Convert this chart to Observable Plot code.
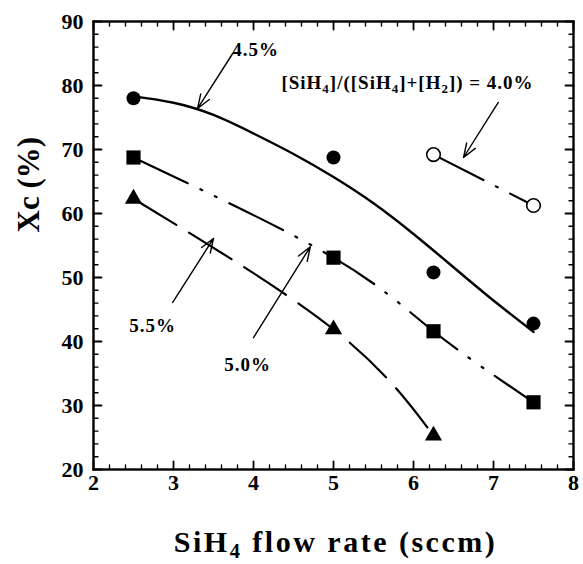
<!DOCTYPE html>
<html>
<head>
<meta charset="utf-8">
<script src="https://cdn.jsdelivr.net/npm/d3@7"></script>
<script src="https://cdn.jsdelivr.net/npm/@observablehq/plot@0.6"></script>
<style>
  html, body { margin: 0; padding: 0; background: #fff; }
  #chart svg { display: block; }
</style>
</head>
<body>
<div id="chart"></div>
<script>
// ---- data ----
const flow = [2.5, 5, 6.25, 7.5];                 // SiH4 flow rate (sccm)
const xc45 = [78.0, 68.75, 50.8, 42.8];           // 4.5% (filled circles)
const xc50 = [68.75, 53.1, 41.6, 30.5];           // 5.0% (filled squares)
const flow55 = [2.5, 5, 6.25];
const xc55 = [62.3, 41.9, 25.3];                  // 5.5% (filled triangles)
const flow40 = [6.25, 7.5];
const xc40 = [69.2, 61.25];                       // 4.0% (open circles)
// solid fit curve through the 4.5% series
const fitFlow45 = [2.5, 3, 3.5, 4, 4.5, 5, 5.5, 6, 6.5, 7, 7.5];
const fitXc45 = [78.3, 77.3, 75.4, 72.5, 69.3, 65.7, 61.6, 56.8, 51.6, 46.4, 41.5];

// tick values
const xMajorTicks = [2, 3, 4, 5, 6, 7, 8];
const yMajorTicks = [20, 30, 40, 50, 60, 70, 80, 90];
const xMinorTicks = d3.range(2, 8.0001, 0.2).map(v => +v.toFixed(1)).filter(v => !xMajorTicks.includes(v));
const yMinorTicks = d3.range(20, 90.0001, 2).filter(v => !yMajorTicks.includes(v));

// annotations
const labelText = ["4.5%", "[SiH4]/([SiH4]+[H2]) = 4.0%", "5.5%", "5.0%"];
const labelX = [4.025, 5.925, 2.74, 3.925];
const labelY = [85.6, 80.4, 42.5, 36.4];
const arrowX1 = [3.74, 7.06, 2.99, 4.0];
const arrowY1 = [85.0, 77.35, 46.1, 40.6];
const arrowX2 = [3.30, 6.625, 3.5, 4.71];
const arrowY2 = [76.4, 68.75, 56.1, 54.8];

const xTitle = "SiH4 flow rate (sccm)";
const yTitle = "Xc (%)";

// ---- layout ----
const W = 583, H = 564, mt = 21, mr = 10, mb = 95, ml = 93;
const fw = W - ml - mr, fh = H - mt - mb;
const xDomain = [2, 8], yDomain = [20, 90];
const font = "'Liberation Serif', 'Times New Roman', serif";
const majorLen = 8, minorLen = 4.5;

// ---- build tables ----
const s45 = flow.map((x, i) => ({x, y: xc45[i]}));
const s50 = flow.map((x, i) => ({x, y: xc50[i]}));
const s55 = flow55.map((x, i) => ({x, y: xc55[i]}));
const s40 = flow40.map((x, i) => ({x, y: xc40[i]}));
const fit45 = fitFlow45.map((x, i) => ({x, y: fitXc45[i]}));
const labels = labelText.map((t, i) => ({t, x: labelX[i], y: labelY[i]}));
const arrows = arrowX1.map((x1, i) => ({x1, y1: arrowY1[i], x2: arrowX2[i], y2: arrowY2[i]}));

// inward tick segments on all four sides (pixel length converted to data units)
const pxY = (yDomain[1] - yDomain[0]) / fh, pxX = (xDomain[1] - xDomain[0]) / fw;
function tickSegments(xs, ys, len) {
  const rows = [];
  xs.forEach((v, i) => {
    rows.push({k: "b" + i, x: v, y: yDomain[0]}, {k: "b" + i, x: v, y: yDomain[0] + len * pxY});
    rows.push({k: "t" + i, x: v, y: yDomain[1]}, {k: "t" + i, x: v, y: yDomain[1] - len * pxY});
  });
  ys.forEach((v, i) => {
    rows.push({k: "l" + i, x: xDomain[0], y: v}, {k: "l" + i, x: xDomain[0] + len * pxX, y: v});
    rows.push({k: "r" + i, x: xDomain[1], y: v}, {k: "r" + i, x: xDomain[1] - len * pxX, y: v});
  });
  return rows;
}
const majorSegs = tickSegments(xMajorTicks, yMajorTicks, majorLen);
const minorSegs = tickSegments(xMinorTicks, yMinorTicks, minorLen);

const chart = Plot.plot({
  width: W, height: H,
  marginTop: mt, marginRight: mr, marginBottom: mb, marginLeft: ml,
  style: {fontFamily: font, background: "white", color: "black"},
  x: {domain: xDomain, axis: null},
  y: {domain: yDomain, axis: null},
  marks: [
    // ticks and frame
    Plot.line(majorSegs, {x: "x", y: "y", z: "k", stroke: "black", strokeWidth: 1.8}),
    Plot.line(minorSegs, {x: "x", y: "y", z: "k", stroke: "black", strokeWidth: 1.4}),
    Plot.frame({stroke: "black", strokeWidth: 2.4}),
    // tick labels
    Plot.text(xMajorTicks, {x: d => d, text: d => String(d), frameAnchor: "bottom", dy: 13, lineAnchor: "middle", textAnchor: "middle", fontSize: 22, fontWeight: "bold"}),
    Plot.text(yMajorTicks, {y: d => d, text: d => String(d), frameAnchor: "left", dx: -10, lineAnchor: "middle", textAnchor: "end", fontSize: 22, fontWeight: "bold"}),
    // axis titles
    Plot.text([xTitle], {text: d => d, frameAnchor: "bottom", dy: 73, fontSize: 30, fontWeight: "bold", lineAnchor: "middle", dx: 2}),
    Plot.text([yTitle], {text: d => d, frameAnchor: "left", dx: -64, dy: -13, rotate: -90, fontSize: 31, fontWeight: "bold", lineAnchor: "middle"}),
    // series lines
    Plot.line(fit45, {x: "x", y: "y", curve: "natural", strokeWidth: 2.4}),
    Plot.line(s50, {x: "x", y: "y", curve: "natural", strokeWidth: 2.2, strokeDasharray: "60,14,2,14,2,14"}),
    Plot.line(s55, {x: "x", y: "y", curve: "natural", strokeWidth: 2.2, strokeDasharray: "50,15"}),
    Plot.line(s40, {x: "x", y: "y", strokeWidth: 2.2, strokeDasharray: "56,14,2,14"}),
    // markers
    Plot.dot(s45, {x: "x", y: "y", symbol: "circle", r: 7, fill: "black"}),
    Plot.dot(s50, {x: "x", y: "y", symbol: "square", r: 8, fill: "black"}),
    Plot.dot(s55, {x: "x", y: "y", symbol: "triangle", r: 6.4, fill: "black"}),
    Plot.dot(s40, {x: "x", y: "y", symbol: "circle", r: 6.8, fill: "white", stroke: "black", strokeWidth: 1.6}),
    // annotations
    Plot.arrow(arrows, {x1: "x1", y1: "y1", x2: "x2", y2: "y2", stroke: "black", strokeWidth: 1.4, headLength: 16, headAngle: 40}),
    Plot.text(labels, {x: "x", y: "y", text: "t", fontSize: 19, fontWeight: "bold", lineAnchor: "middle", textAnchor: "middle"})
  ]
});

// subscripts for chemical formulae (SiH4, H2) and slightly wider lettering
const ns = "http://www.w3.org/2000/svg";
chart.querySelectorAll("text, tspan").forEach(el => {
  if (el.childNodes.length !== 1 || el.firstChild.nodeType !== 3) return;
  const s = el.textContent;
  if (s === xTitle) el.setAttribute("letter-spacing", "2.5");
  else if (labelText.includes(s)) el.setAttribute("letter-spacing", "1");
  if (!/H\d/.test(s)) return;
  const parts = s.split(/(H)(\d)/);
  el.textContent = "";
  for (let i = 0; i < parts.length; i++) {
    const p = parts[i];
    if (p === "") continue;
    if (/^\d$/.test(p) && parts[i - 1] === "H") {
      const t = document.createElementNS(ns, "tspan");
      t.setAttribute("baseline-shift", "-28%");
      t.setAttribute("font-size", "68%");
      t.textContent = p;
      el.appendChild(t);
    } else {
      el.appendChild(document.createTextNode(p));
    }
  }
});

document.getElementById("chart").appendChild(chart);
</script>
</body>
</html>
